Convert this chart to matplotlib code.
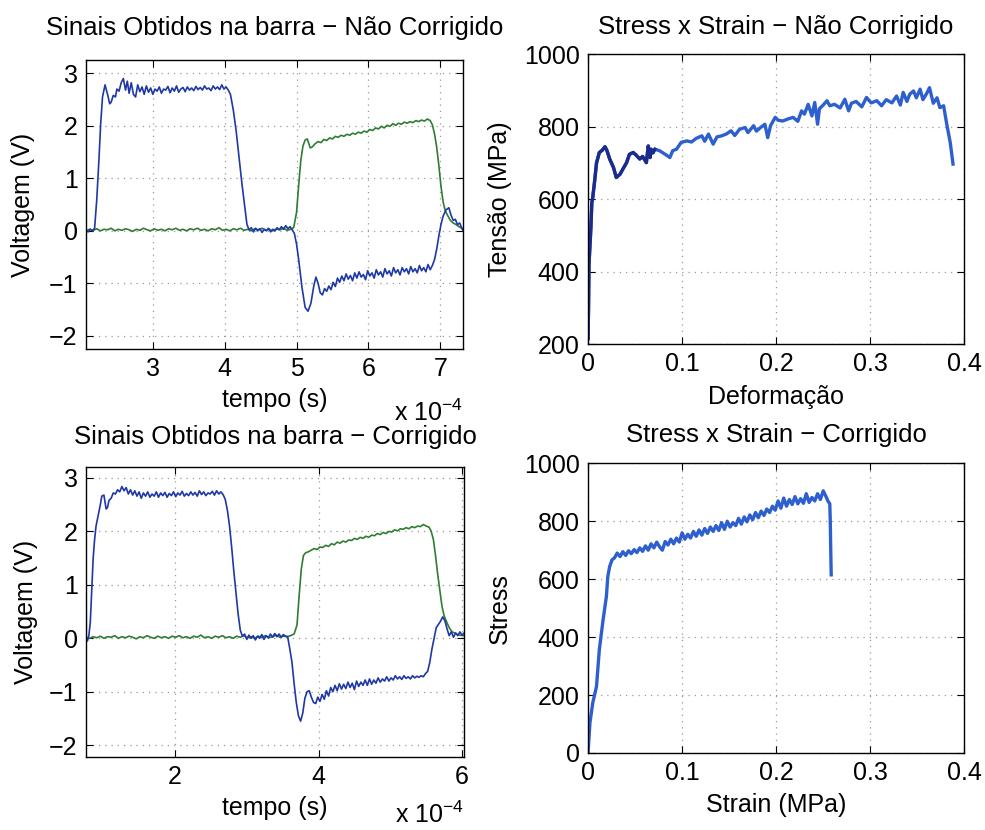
import matplotlib
matplotlib.use('Agg')
import matplotlib.pyplot as plt
from matplotlib.ticker import FormatStrFormatter

plt.rcParams['font.family'] = ['Liberation Sans', 'DejaVu Sans']
plt.rcParams['mathtext.fontset'] = 'custom'
plt.rcParams['mathtext.rm'] = 'Liberation Sans'
plt.rcParams['font.size'] = 18

# ---- sinais na barra, não corrigido (tempo em 1e-4 s, voltagem em V) ----
t_nc_inc = [
    2.07, 2.10, 2.13, 2.16, 2.19, 2.22, 2.25, 2.275, 2.30, 2.335,
    2.37, 2.40, 2.42, 2.45, 2.48, 2.50, 2.53, 2.56, 2.59, 2.62,
    2.645, 2.67, 2.70, 2.73, 2.76, 2.79, 2.82, 2.85, 2.88, 2.91,
    2.94, 2.97, 3.00, 3.03, 3.06, 3.09, 3.12, 3.15, 3.18, 3.21,
    3.24, 3.27, 3.30, 3.33, 3.36, 3.39, 3.42, 3.45, 3.48, 3.51,
    3.54, 3.57, 3.60, 3.63, 3.66, 3.69, 3.72, 3.75, 3.78, 3.81,
    3.84, 3.87, 3.90, 3.93, 3.96, 3.99, 4.02, 4.05, 4.08, 4.12,
    4.16, 4.20, 4.24, 4.28, 4.31, 4.34, 4.37, 4.40, 4.43, 4.46,
    4.49, 4.52, 4.55, 4.58, 4.61, 4.64, 4.67, 4.70, 4.73, 4.76,
    4.79, 4.82, 4.85, 4.88, 4.91, 4.94, 4.97, 5.00, 5.03, 5.076,
    5.12, 5.16, 5.20, 5.24, 5.27, 5.30, 5.33, 5.36, 5.39, 5.42,
    5.45, 5.48, 5.51, 5.54, 5.57, 5.60, 5.63, 5.66, 5.69, 5.72,
    5.75, 5.78, 5.81, 5.84, 5.87, 5.90, 5.93, 5.96, 5.99, 6.02,
    6.05, 6.08, 6.11, 6.14, 6.17, 6.20, 6.23, 6.26, 6.29, 6.32,
    6.35, 6.38, 6.41, 6.44, 6.47, 6.50, 6.53, 6.56, 6.59, 6.62,
    6.65, 6.68, 6.71, 6.74, 6.77, 6.80, 6.83, 6.86, 6.89, 6.92,
    6.95, 6.98, 7.01, 7.04, 7.08, 7.12, 7.15, 7.18, 7.21, 7.24,
    7.27, 7.30, 7.32]
v_nc_inc = [
    0.0, -0.02, 0.03, 0.0, 0.05, 0.6, 1.35, 2.05, 2.55, 2.78,
    2.6, 2.42, 2.45, 2.58, 2.55, 2.7, 2.66, 2.82, 2.9, 2.68,
    2.85, 2.62, 2.82, 2.6, 2.55, 2.78, 2.65, 2.74, 2.6, 2.76,
    2.64, 2.72, 2.6, 2.7, 2.66, 2.74, 2.62, 2.7, 2.68, 2.75,
    2.63, 2.72, 2.66, 2.76, 2.64, 2.7, 2.73, 2.65, 2.74, 2.68,
    2.72, 2.67, 2.75, 2.69, 2.73, 2.68, 2.76, 2.7, 2.72, 2.67,
    2.76, 2.7, 2.74, 2.69, 2.78, 2.7, 2.74, 2.68, 2.6, 2.3,
    1.9, 1.4, 0.9, 0.45, 0.12, 0.02, 0.06, -0.02, 0.05, 0.0,
    0.04, -0.03, 0.03, 0.0, 0.05, -0.02, 0.03, 0.0, 0.06, 0.02,
    0.08, 0.03, 0.1, 0.04, 0.08, 0.02, -0.05, -0.25, -0.55, -1.08,
    -1.46, -1.53, -1.38, -1.05, -0.88, -1.0, -1.18, -1.22, -1.1, -1.15,
    -1.05, -1.12, -0.98, -1.06, -0.9, -0.98, -0.86, -0.95, -0.82, -0.92,
    -0.85, -0.95, -0.8, -0.9, -0.78, -0.88, -0.83, -0.93, -0.76, -0.86,
    -0.8, -0.9, -0.74, -0.84, -0.78, -0.88, -0.72, -0.82, -0.76, -0.86,
    -0.7, -0.8, -0.74, -0.84, -0.7, -0.78, -0.72, -0.82, -0.68, -0.78,
    -0.72, -0.8, -0.66, -0.76, -0.7, -0.78, -0.64, -0.74, -0.66, -0.55,
    -0.35, -0.1, 0.12, 0.28, 0.4, 0.44, 0.3, 0.2, 0.22, 0.12,
    0.15, 0.05, 0.0]

t_nc_tr = [
    2.07, 2.12, 2.17, 2.22, 2.27, 2.32, 2.37, 2.42, 2.47, 2.52,
    2.57, 2.62, 2.67, 2.72, 2.77, 2.82, 2.87, 2.92, 2.97, 3.02,
    3.07, 3.12, 3.17, 3.22, 3.27, 3.32, 3.37, 3.42, 3.47, 3.52,
    3.57, 3.62, 3.67, 3.72, 3.77, 3.82, 3.87, 3.92, 3.97, 4.02,
    4.07, 4.12, 4.17, 4.22, 4.27, 4.32, 4.37, 4.42, 4.47, 4.52,
    4.57, 4.62, 4.67, 4.72, 4.77, 4.82, 4.87, 4.92, 4.96, 5.00,
    5.03, 5.06, 5.09, 5.12, 5.15, 5.19, 5.22, 5.26, 5.30, 5.34,
    5.38, 5.42, 5.46, 5.50, 5.54, 5.58, 5.62, 5.66, 5.70, 5.74,
    5.78, 5.82, 5.86, 5.90, 5.94, 5.98, 6.02, 6.06, 6.10, 6.14,
    6.18, 6.22, 6.26, 6.30, 6.34, 6.38, 6.42, 6.46, 6.50, 6.54,
    6.58, 6.62, 6.66, 6.70, 6.74, 6.78, 6.82, 6.86, 6.89, 6.92,
    6.95, 6.98, 7.01, 7.04, 7.07, 7.10, 7.14, 7.18, 7.22, 7.26,
    7.30, 7.32]
v_nc_tr = [
    0.0, 0.03, 0.01, 0.04, 0.0, 0.03, 0.02, 0.05, 0.0, 0.03,
    0.01, 0.04, 0.02, -0.01, 0.03, 0.01, 0.05, 0.02, 0.0, 0.04,
    0.01, 0.03, 0.0, 0.04, 0.02, 0.05, 0.01, 0.03, 0.0, 0.04,
    0.02, 0.05, 0.01, 0.03, 0.0, 0.04, 0.02, 0.06, 0.01, 0.03,
    0.0, 0.04, 0.02, 0.05, 0.01, 0.03, 0.0, 0.04, 0.02, 0.05,
    0.01, 0.03, 0.0, 0.04, 0.02, 0.05, 0.01, 0.03, 0.06, 0.35,
    0.87, 1.35, 1.62, 1.73, 1.75, 1.58, 1.6, 1.66, 1.7, 1.68,
    1.74, 1.72, 1.77, 1.75, 1.8, 1.78, 1.82, 1.8, 1.84, 1.82,
    1.86, 1.84, 1.88, 1.86, 1.9, 1.88, 1.93, 1.91, 1.96, 1.94,
    1.99, 1.96, 2.01, 1.99, 2.04, 2.01, 2.05, 2.03, 2.07, 2.05,
    2.08, 2.06, 2.1, 2.08, 2.11, 2.09, 2.13, 2.1, 2.02, 1.85,
    1.6, 1.25, 0.85, 0.55, 0.38, 0.3, 0.2, 0.15, 0.12, 0.08,
    0.05, 0.04]

# ---- sinais na barra, corrigido ----
t_c_inc = [
    0.76, 0.78, 0.80, 0.82, 0.84, 0.86, 0.88, 0.90, 0.93, 0.96,
    0.98, 1.01, 1.04, 1.06, 1.08, 1.11, 1.14, 1.17, 1.20, 1.23,
    1.26, 1.29, 1.32, 1.35, 1.38, 1.41, 1.44, 1.47, 1.50, 1.53,
    1.56, 1.59, 1.62, 1.65, 1.68, 1.71, 1.74, 1.77, 1.80, 1.83,
    1.86, 1.89, 1.92, 1.95, 1.98, 2.01, 2.04, 2.07, 2.10, 2.13,
    2.16, 2.19, 2.22, 2.25, 2.28, 2.31, 2.34, 2.37, 2.40, 2.43,
    2.46, 2.49, 2.52, 2.55, 2.58, 2.61, 2.64, 2.67, 2.70, 2.73,
    2.76, 2.79, 2.82, 2.85, 2.88, 2.91, 2.94, 2.97, 3.00, 3.03,
    3.06, 3.09, 3.12, 3.15, 3.18, 3.21, 3.24, 3.27, 3.30, 3.33,
    3.36, 3.39, 3.42, 3.45, 3.48, 3.51, 3.54, 3.57, 3.60, 3.63,
    3.66, 3.69, 3.72, 3.75, 3.78, 3.81, 3.84, 3.87, 3.90, 3.93,
    3.96, 3.99, 4.02, 4.05, 4.08, 4.11, 4.14, 4.17, 4.20, 4.23,
    4.26, 4.29, 4.32, 4.35, 4.38, 4.41, 4.44, 4.47, 4.50, 4.53,
    4.56, 4.59, 4.62, 4.65, 4.68, 4.71, 4.74, 4.77, 4.80, 4.83,
    4.86, 4.89, 4.92, 4.95, 4.98, 5.01, 5.04, 5.07, 5.10, 5.13,
    5.16, 5.19, 5.22, 5.25, 5.28, 5.31, 5.34, 5.37, 5.40, 5.43,
    5.46, 5.49, 5.52, 5.55, 5.58, 5.61, 5.64, 5.67, 5.70, 5.73,
    5.76, 5.79, 5.82, 5.85, 5.88, 5.91, 5.94, 5.97, 6.00, 6.03]
v_c_inc = [
    0.0, -0.05, 0.05, 0.3, 0.9, 1.5, 1.85, 2.1, 2.3, 2.5,
    2.66, 2.68, 2.42, 2.45, 2.58, 2.62, 2.72, 2.7, 2.78, 2.74,
    2.84, 2.76, 2.82, 2.7, 2.78, 2.68, 2.76, 2.66, 2.74, 2.62,
    2.72, 2.66, 2.74, 2.64, 2.7, 2.66, 2.74, 2.64, 2.72, 2.67,
    2.73, 2.64, 2.71, 2.67, 2.74, 2.65, 2.72, 2.68, 2.75, 2.66,
    2.71, 2.67, 2.74, 2.68, 2.73, 2.66, 2.76, 2.69, 2.74, 2.67,
    2.72, 2.7, 2.75, 2.68, 2.76, 2.7, 2.74, 2.69, 2.6, 2.4,
    2.1, 1.7, 1.25, 0.85, 0.45, 0.15, 0.04, 0.08, -0.02, 0.06,
    0.0, 0.05, -0.03, 0.04, 0.0, 0.07, -0.02, 0.05, 0.01, 0.08,
    0.02, 0.09, 0.03, 0.08, 0.02, 0.07, 0.04, 0.03, -0.2, -0.45,
    -0.85, -1.2, -1.45, -1.55, -1.4, -1.12, -1.0, -0.98, -1.1, -1.2,
    -1.22, -1.1, -1.18, -1.05, -1.14, -0.98, -1.08, -0.92, -1.0, -0.88,
    -0.98, -0.85, -0.95, -0.86, -0.94, -0.82, -0.92, -0.84, -0.96, -0.8,
    -0.9, -0.82, -0.88, -0.78, -0.88, -0.76, -0.86, -0.78, -0.84, -0.74,
    -0.82, -0.76, -0.8, -0.72, -0.8, -0.74, -0.78, -0.7, -0.76, -0.72,
    -0.77, -0.7, -0.75, -0.72, -0.76, -0.7, -0.74, -0.71, -0.73, -0.7,
    -0.72, -0.66, -0.62, -0.45, -0.2, 0.0, 0.2, 0.26, 0.32, 0.4,
    0.33, 0.18, 0.05, 0.12, 0.02, 0.1, 0.05, 0.12, 0.06, 0.1]

t_c_tr = [
    0.76, 0.81, 0.86, 0.91, 0.96, 1.01, 1.06, 1.11, 1.16, 1.21,
    1.26, 1.31, 1.36, 1.41, 1.46, 1.51, 1.56, 1.61, 1.66, 1.71,
    1.76, 1.81, 1.86, 1.91, 1.96, 2.01, 2.06, 2.11, 2.16, 2.21,
    2.26, 2.31, 2.36, 2.41, 2.46, 2.51, 2.56, 2.61, 2.66, 2.71,
    2.76, 2.81, 2.86, 2.91, 2.96, 3.01, 3.06, 3.11, 3.16, 3.21,
    3.26, 3.31, 3.36, 3.41, 3.46, 3.51, 3.56, 3.61, 3.66, 3.70,
    3.73, 3.76, 3.79, 3.82, 3.86, 3.90, 3.94, 3.98, 4.02, 4.06,
    4.10, 4.14, 4.18, 4.22, 4.26, 4.30, 4.34, 4.38, 4.42, 4.46,
    4.50, 4.54, 4.58, 4.62, 4.66, 4.70, 4.74, 4.78, 4.82, 4.86,
    4.90, 4.94, 4.98, 5.02, 5.06, 5.10, 5.14, 5.18, 5.22, 5.26,
    5.30, 5.34, 5.38, 5.42, 5.46, 5.50, 5.54, 5.57, 5.60, 5.63,
    5.66, 5.69, 5.72, 5.75, 5.78, 5.82, 5.86, 5.90, 5.95, 6.03]
v_c_tr = [
    0.02, 0.0, 0.03, 0.01, 0.04, 0.0, 0.03, 0.02, 0.05, 0.0,
    0.03, 0.01, 0.04, 0.02, -0.01, 0.03, 0.01, 0.05, 0.02, 0.0,
    0.04, 0.01, 0.03, 0.0, 0.04, 0.02, 0.05, 0.01, 0.03, 0.0,
    0.04, 0.02, 0.06, 0.01, 0.03, 0.0, 0.04, 0.02, 0.05, 0.01,
    0.03, 0.0, 0.04, 0.02, 0.05, 0.01, 0.03, 0.0, 0.04, 0.02,
    0.05, 0.01, 0.03, 0.06, 0.02, 0.04, 0.03, 0.05, 0.08, 0.25,
    0.8, 1.3, 1.55, 1.6, 1.62, 1.65, 1.68, 1.66, 1.71, 1.7,
    1.74, 1.72, 1.77, 1.75, 1.8, 1.78, 1.82, 1.8, 1.84, 1.83,
    1.87, 1.85, 1.89, 1.87, 1.91, 1.89, 1.93, 1.92, 1.96, 1.94,
    1.98, 1.96, 2.0, 1.99, 2.03, 2.01, 2.05, 2.04, 2.07, 2.05,
    2.09, 2.07, 2.1, 2.09, 2.13, 2.1, 2.08, 2.0, 1.85, 1.55,
    1.2, 0.9, 0.6, 0.42, 0.32, 0.2, 0.12, 0.1, 0.06, 0.05]

# traço na borda esquerda do gráfico corrigido
t_c_edge = [0.758, 0.762, 0.766]
v_c_edge = [-2.2, 2.5, 0.0]

# ---- stress x strain ----
strain_nc = [
    0.0, 0.0005, 0.001, 0.002, 0.003, 0.004, 0.005, 0.007, 0.009, 0.012,
    0.015, 0.018, 0.020, 0.023, 0.027, 0.030, 0.034, 0.037, 0.041, 0.044,
    0.048, 0.051, 0.055, 0.058, 0.062, 0.064, 0.066, 0.067, 0.069, 0.071,
    0.076, 0.082, 0.087, 0.090, 0.094, 0.099, 0.105, 0.110, 0.115, 0.121,
    0.124, 0.128, 0.133, 0.137, 0.142, 0.147, 0.152, 0.156, 0.161, 0.167,
    0.170, 0.176, 0.179, 0.183, 0.188, 0.191, 0.194, 0.199, 0.202, 0.207,
    0.213, 0.218, 0.223, 0.227, 0.230, 0.234, 0.238, 0.241, 0.244, 0.246,
    0.250, 0.254, 0.257, 0.262, 0.268, 0.273, 0.277, 0.280, 0.285, 0.291,
    0.296, 0.301, 0.307, 0.312, 0.317, 0.323, 0.328, 0.332, 0.335, 0.339,
    0.342, 0.346, 0.349, 0.353, 0.356, 0.360, 0.363, 0.367, 0.371, 0.374,
    0.378, 0.381, 0.385, 0.388]
stress_nc = [
    215, 300, 420, 470, 520, 590, 605, 650, 700, 729,
    735, 745, 735, 711, 688, 660, 669, 683, 701, 724,
    729, 722, 711, 718, 701, 747, 715, 738, 728, 738,
    734, 724, 715, 734, 738, 757, 761, 758, 768, 775,
    760, 780, 752, 772, 775, 780, 789, 776, 793, 798,
    784, 803, 788, 797, 807, 770, 803, 826, 818, 816,
    822, 826, 815, 844, 835, 862, 830, 867, 807, 850,
    860, 872, 858, 862, 852, 876, 844, 865, 870, 855,
    881, 866, 872, 858, 875, 866, 885, 860, 895, 870,
    890, 899, 880, 904, 875, 892, 908, 865, 880, 853,
    858, 812, 757, 697]

strain_c = [
    0.0, 0.002, 0.005, 0.009, 0.012, 0.016, 0.018, 0.0195, 0.021, 0.023,
    0.0255, 0.028, 0.031, 0.034, 0.037, 0.040, 0.043, 0.046, 0.049, 0.052,
    0.055, 0.058, 0.061, 0.064, 0.067, 0.070, 0.073, 0.076, 0.079, 0.082,
    0.085, 0.088, 0.091, 0.094, 0.097, 0.100, 0.103, 0.106, 0.109, 0.112,
    0.115, 0.118, 0.121, 0.124, 0.127, 0.130, 0.133, 0.136, 0.139, 0.142,
    0.145, 0.148, 0.151, 0.154, 0.157, 0.160, 0.163, 0.166, 0.169, 0.172,
    0.175, 0.178, 0.181, 0.184, 0.187, 0.190, 0.193, 0.196, 0.199, 0.202,
    0.205, 0.208, 0.211, 0.214, 0.217, 0.220, 0.223, 0.226, 0.229, 0.232,
    0.235, 0.238, 0.241, 0.244, 0.247, 0.250, 0.253, 0.255, 0.257, 0.2575,
    0.258, 0.2585]
stress_c = [
    0, 104, 173, 230, 357, 460, 506, 540, 609, 644,
    667, 673, 690, 678, 695, 682, 698, 688, 702, 692,
    708, 696, 715, 700, 722, 708, 728, 712, 700, 730,
    718, 738, 722, 742, 728, 760, 738, 755, 742, 765,
    748, 770, 752, 775, 758, 780, 765, 785, 768, 795,
    772, 800, 780, 795, 785, 810, 790, 815, 798, 822,
    805, 830, 812, 835, 820, 842, 830, 852, 838, 870,
    845, 880, 852, 875, 858, 885, 860, 878, 862, 895,
    865, 882, 870, 895, 875, 905, 885, 870, 860, 800,
    700, 615]

BLUE = '#1f38a6'
GREEN = '#2e7d32'
SS_BLUE = '#2d5fcf'
SS_DARK = '#1b2b8c'
TITLE_SIZE = 18.5


def style_axes(ax):
    ax.grid(True, linestyle=(0, (1, 4)), color='#999999', linewidth=0.9)
    ax.tick_params(direction='in', top=True, right=True, length=5,
                   width=0.8, pad=6, labelsize=18)
    for s in ax.spines.values():
        s.set_linewidth(1.0)
    ax.xaxis.label.set_va('center')
    ax.yaxis.label.set_va('center')


fig = plt.figure(figsize=(9.85, 8.3), dpi=100)

# superior esquerdo
ax1 = fig.add_axes([0.0873, 0.5795, 0.383, 0.348])
ax1.plot(t_nc_tr, v_nc_tr, color=GREEN, lw=1.2)
ax1.plot(t_nc_inc, v_nc_inc, color=BLUE, lw=1.2)
ax1.set_xlim(2.07, 7.32)
ax1.set_ylim(-2.25, 3.25)
ax1.set_xticks([3, 4, 5, 6, 7])
ax1.set_yticks([-2, -1, 0, 1, 2, 3])
ax1.set_title('Sinais Obtidos na barra \u2212 Não Corrigido', y=1.11, pad=0,
              va='center', fontsize=TITLE_SIZE)
ax1.set_xlabel('tempo (s)')
ax1.set_ylabel('Voltagem (V)')
style_axes(ax1)
ax1.xaxis.set_label_coords(0.5, -0.176)
ax1.yaxis.set_label_coords(-0.167, 0.5)
ax1.text(1.0, -0.22, r'x 10$^{-4}$', transform=ax1.transAxes,
         ha='right', va='center', fontsize=18)

# superior direito
ax2 = fig.add_axes([0.597, 0.5855, 0.382, 0.349])
ax2.plot(strain_nc, stress_nc, color=SS_BLUE, lw=2.4)
n_dark = sum(1 for s in strain_nc if s <= 0.071)
ax2.plot(strain_nc[:n_dark], stress_nc[:n_dark], color=SS_DARK, lw=2.4)
ax2.set_xlim(0, 0.4)
ax2.set_ylim(200, 1000)
ax2.set_xticks([0, 0.1, 0.2, 0.3, 0.4])
ax2.set_yticks([200, 400, 600, 800, 1000])
ax2.xaxis.set_major_formatter(FormatStrFormatter('%g'))
ax2.set_title('Stress x Strain \u2212 Não Corrigido', y=1.093, pad=0,
              va='center', fontsize=TITLE_SIZE)
ax2.set_xlabel('Deformação')
ax2.set_ylabel('Tensão (MPa)')
style_axes(ax2)
ax2.xaxis.set_label_coords(0.5, -0.183)
ax2.yaxis.set_label_coords(-0.234, 0.5)

# inferior esquerdo
ax3 = fig.add_axes([0.0873, 0.088, 0.384, 0.349])
ax3.plot(t_c_edge, v_c_edge, color='#7a3a9a', lw=1.0)
ax3.plot(t_c_tr, v_c_tr, color=GREEN, lw=1.2)
ax3.plot(t_c_inc, v_c_inc, color=BLUE, lw=1.2)
ax3.set_xlim(0.76, 6.03)
ax3.set_ylim(-2.22, 3.2)
ax3.set_xticks([2, 4, 6])
ax3.set_yticks([-2, -1, 0, 1, 2, 3])
ax3.set_title('Sinais Obtidos na barra \u2212 Corrigido', y=1.103, pad=0,
              va='center', fontsize=TITLE_SIZE)
ax3.set_xlabel('tempo (s)')
ax3.set_ylabel('Voltagem (V)')
style_axes(ax3)
ax3.xaxis.set_label_coords(0.5, -0.176)
ax3.yaxis.set_label_coords(-0.159, 0.5)
ax3.text(1.0, -0.2, r'x 10$^{-4}$', transform=ax3.transAxes,
         ha='right', va='center', fontsize=18)

# inferior direito
ax4 = fig.add_axes([0.597, 0.0928, 0.382, 0.349])
ax4.plot(strain_c, stress_c, color=SS_BLUE, lw=2.4)
ax4.set_xlim(0, 0.4)
ax4.set_ylim(0, 1000)
ax4.set_xticks([0, 0.1, 0.2, 0.3, 0.4])
ax4.set_yticks([0, 200, 400, 600, 800, 1000])
ax4.xaxis.set_major_formatter(FormatStrFormatter('%g'))
ax4.set_title('Stress x Strain \u2212 Corrigido', y=1.097, pad=0,
              va='center', fontsize=TITLE_SIZE)
ax4.set_xlabel('Strain (MPa)')
ax4.set_ylabel('Stress')
style_axes(ax4)
ax4.xaxis.set_label_coords(0.5, -0.179)
ax4.yaxis.set_label_coords(-0.234, 0.5)

fig.savefig('out.png', dpi=100)
